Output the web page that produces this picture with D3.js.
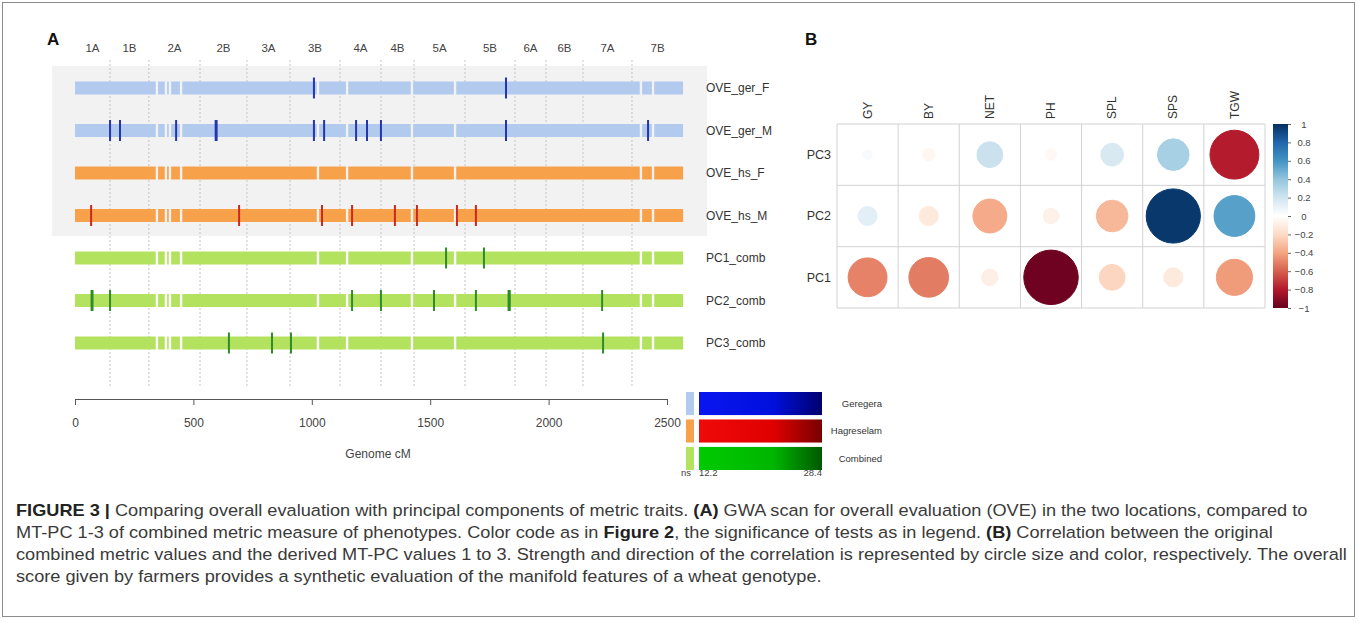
<!DOCTYPE html>
<html lang="en">
<head>
    <meta charset="utf-8">
    <title>Figure 3</title>
    <style>
        body { margin: 0; background: #fff; }
        svg { display: block; font-family: 'Liberation Sans', Arial, sans-serif; }
        .caption { white-space: pre; }
    </style>
    <script src="https://d3js.org/d3.v7.min.js" charset="utf-8"></script>
</head>
<body>
<svg id="fig" width="1358" height="623"></svg>

<script type="text/javascript">
    // panel A: chromosomes and their end positions (cM)
    var chromosomes = ["1A", "1B", "2A", "2B", "3A", "3B", "4A", "4B", "5A", "5B", "6A", "6B", "7A", "7B"];
    var chromEnds = [148, 312, 528, 726, 908, 1119, 1292, 1432, 1647, 1858, 1989, 2145, 2352, 2568];

    var traits = ["OVE_ger_F", "OVE_ger_M", "OVE_hs_F", "OVE_hs_M", "PC1_comb", "PC2_comb", "PC3_comb"];
    var traitGroup = ["Geregera", "Geregera", "Hagreselam", "Hagreselam", "Combined", "Combined", "Combined"];

    // places without markers (white gaps in every track)
    var markerGaps = [346, 384, 401, 448, 1026, 1149, 1423, 1605, 2390, 2441];

    // significant hits per trait (cM)
    var hitsGerF = [1009, 1820];
    var hitsGerM = [148, 190, 427, 594, 598, 1009, 1052, 1187, 1233, 1292, 1820, 2420];
    var hitsHsF = [];
    var hitsHsM = [68, 693, 1043, 1170, 1351, 1444, 1613, 1693];
    var hitsPC1 = [1567, 1727];
    var hitsPC2 = [70, 74, 148, 1170, 1292, 1516, 1693, 1831, 1836, 2226];
    var hitsPC3 = [650, 832, 912, 2230];
    var hits = [hitsGerF, hitsGerM, hitsHsF, hitsHsM, hitsPC1, hitsPC2, hitsPC3];

    var axisTicks = [0, 500, 1000, 1500, 2000, 2500];

    var legendGroups = ["Geregera", "Hagreselam", "Combined"];
    var legendRange = [12.2, 28.4];

    // panel B: correlations
    var pcs = ["PC3", "PC2", "PC1"];
    var metrics = ["GY", "BY", "NET", "PH", "SPL", "SPS", "TGW"];
    var corrPC3 = [0.03, -0.05, 0.22, -0.04, 0.17, 0.33, -0.79];
    var corrPC2 = [0.12, -0.12, -0.38, -0.08, -0.33, 0.97, 0.55];
    var corrPC1 = [-0.50, -0.52, -0.09, -0.98, -0.22, -0.12, -0.43];
    var corr = [corrPC3, corrPC2, corrPC1];
    var colorTicks = [1, 0.8, 0.6, 0.4, 0.2, 0, -0.2, -0.4, -0.6, -0.8, -1];

    var captionLines = [
        [["FIGURE 3 | ", true], ["Comparing overall evaluation with principal components of metric traits. ", false], ["(A)", true], [" GWA scan for overall evaluation (OVE) in the two locations, compared to", false]],
        [["MT-PC 1-3 of combined metric measure of phenotypes. Color code as in ", false], ["Figure 2", true], [", the significance of tests as in legend. ", false], ["(B)", true], [" Correlation between the original", false]],
        [["combined metric values and the derived MT-PC values 1 to 3. Strength and direction of the correlation is represented by circle size and color, respectively. The overall", false]],
        [["score given by farmers provides a synthetic evaluation of the manifold features of a wheat genotype.", false]]
    ];

    var trackColor = {Geregera: "#b2caee", Hagreselam: "#f8a14b", Combined: "#b3e25e"};
    var hitColor = {Geregera: "#2535ad", Hagreselam: "#c92a1c", Combined: "#2f8c27"};
    var gradColors = {
        Geregera: ["#0a16f0", "#0010dc", "#00006c"],
        Hagreselam: ["#f00a0a", "#e00000", "#780000"],
        Combined: ["#00ca00", "#00b600", "#005800"]
    };

    var svg = d3.select("#fig");

    // frame
    svg.append("rect").attr("x", 2.5).attr("y", 2.5).attr("width", 1352).attr("height", 614)
        .attr("fill", "none").attr("stroke", "#8c8c8c");

    // ---------- panel A ----------
    var x = d3.scaleLinear().domain([0, 2500]).range([75, 667]);
    var y = d3.scalePoint().domain(traits).range([88, 343]);

    svg.append("text").attr("x", 47).attr("y", 45).attr("font-size", 17).attr("font-weight", "bold")
        .attr("fill", "#111").text("A");

    svg.append("rect").attr("x", 52).attr("y", 66).attr("width", 655).attr("height", 170).attr("fill", "#f2f2f2");

    var starts = [0].concat(chromEnds.slice(0, -1));

    svg.selectAll(".chrline").data(chromEnds.slice(0, -1)).enter()
        .append("line")
        .attr("x1", d => x(d)).attr("x2", d => x(d))
        .attr("y1", 60).attr("y2", 386)
        .attr("stroke", "#c4c4c4").attr("stroke-dasharray", "2,2");

    svg.selectAll(".chrlab").data(chromosomes).enter()
        .append("text")
        .attr("x", (d, i) => x((starts[i] + chromEnds[i]) / 2))
        .attr("y", 52)
        .attr("text-anchor", "middle").attr("font-size", 11.5).attr("fill", "#444")
        .text(d => d);

    // marker segments between gaps
    var edges = [0].concat(markerGaps, [chromEnds[chromEnds.length - 1]]);
    var segments = [];
    for (var i = 0; i < edges.length - 1; i++) {
        segments.push([edges[i] + (i === 0 ? 0 : 5), edges[i + 1] - (i === edges.length - 2 ? 0 : 5)]);
    }

    traits.forEach(function (t, k) {
        var g = svg.append("g");
        var grp = traitGroup[k];
        g.selectAll("rect").data(segments).enter()
            .append("rect")
            .attr("x", d => x(d[0])).attr("width", d => x(d[1]) - x(d[0]))
            .attr("y", y(t) - 6.5).attr("height", 13)
            .attr("fill", trackColor[grp]);
        g.selectAll("line").data(hits[k]).enter()
            .append("line")
            .attr("x1", d => x(d)).attr("x2", d => x(d))
            .attr("y1", y(t) - 10.5).attr("y2", y(t) + 10.5)
            .attr("stroke", hitColor[grp]).attr("stroke-width", 2);
        svg.append("text").attr("x", 706).attr("y", y(t)).attr("dy", "0.35em")
            .attr("font-size", 12).attr("fill", "#333").text(t);
    });

    var xAxis = svg.append("g").attr("transform", "translate(0,399)")
        .call(d3.axisBottom(x).tickValues(axisTicks).tickSize(6).tickSizeOuter(0).tickPadding(13)
            .tickFormat(d3.format("d")));
    xAxis.select(".domain").attr("stroke", "#555");
    xAxis.selectAll(".tick line").attr("stroke", "#555");
    xAxis.selectAll("text").attr("font-size", 12).attr("fill", "#444")
        .attr("font-family", "'Liberation Sans', Arial, sans-serif");

    svg.append("text").attr("x", 378).attr("y", 458).attr("text-anchor", "middle")
        .attr("font-size", 12).attr("fill", "#444").text("Genome cM");

    // legend
    var defs = svg.append("defs");
    var ly = d3.scaleBand().domain(legendGroups).range([392, 470]).paddingInner(0.16);
    legendGroups.forEach(function (grp) {
        var lg = defs.append("linearGradient").attr("id", "grad" + grp);
        var cols = gradColors[grp];
        lg.append("stop").attr("offset", "0%").attr("stop-color", cols[0]);
        lg.append("stop").attr("offset", "60%").attr("stop-color", cols[1]);
        lg.append("stop").attr("offset", "100%").attr("stop-color", cols[2]);
        svg.append("rect").attr("x", 686).attr("y", ly(grp)).attr("width", 8).attr("height", ly.bandwidth())
            .attr("fill", trackColor[grp]);
        svg.append("rect").attr("x", 699).attr("y", ly(grp)).attr("width", 123).attr("height", ly.bandwidth())
            .attr("fill", "url(#grad" + grp + ")");
        svg.append("text").attr("x", 882).attr("y", ly(grp) + ly.bandwidth() / 2).attr("dy", "0.35em")
            .attr("text-anchor", "end").attr("font-size", 9.5).attr("fill", "#333").text(grp);
    });
    svg.append("text").attr("x", 681).attr("y", 476).attr("font-size", 9.5).attr("fill", "#444").text("ns");
    svg.append("text").attr("x", 699).attr("y", 476).attr("font-size", 9.5).attr("fill", "#444").text(legendRange[0]);
    svg.append("text").attr("x", 822).attr("y", 476).attr("text-anchor", "end").attr("font-size", 9.5)
        .attr("fill", "#444").text(legendRange[1]);

    // ---------- panel B ----------
    svg.append("text").attr("x", 805).attr("y", 45).attr("font-size", 17).attr("font-weight", "bold")
        .attr("fill", "#111").text("B");

    var cx = d3.scaleBand().domain(metrics).range([837, 1265]);
    var cy = d3.scaleBand().domain(pcs).range([124, 308]);
    var corrStops = ["#67001F", "#B2182B", "#D6604D", "#F4A582", "#FDDBC7", "#FFFFFF",
        "#D1E5F0", "#92C5DE", "#4393C3", "#2166AC", "#053061"];
    var color = d3.scaleLinear().domain(d3.range(11).map(i => -1 + i * 0.2)).range(corrStops);
    var rad = d3.scaleSqrt().domain([0, 1]).range([0, cx.bandwidth() * 0.9 / 2]);

    var grid = svg.append("g").attr("stroke", "#d2d2d2").attr("fill", "none");
    metrics.concat(["end"]).forEach(function (m, i) {
        var xx = i < metrics.length ? cx(m) : 1265;
        grid.append("line").attr("x1", xx).attr("x2", xx).attr("y1", 124).attr("y2", 308);
    });
    pcs.concat(["end"]).forEach(function (p, i) {
        var yy = i < pcs.length ? cy(p) : 308;
        grid.append("line").attr("x1", 837).attr("x2", 1265).attr("y1", yy).attr("y2", yy);
    });

    pcs.forEach(function (p, r) {
        svg.append("g").selectAll("circle").data(corr[r]).enter()
            .append("circle")
            .attr("cx", (d, j) => cx(metrics[j]) + cx.bandwidth() / 2)
            .attr("cy", cy(p) + cy.bandwidth() / 2)
            .attr("r", d => rad(Math.abs(d)))
            .attr("fill", d => color(d))
            .attr("stroke", d => color(d));
        svg.append("text").attr("x", 831).attr("y", cy(p) + cy.bandwidth() / 2).attr("dy", "0.35em")
            .attr("text-anchor", "end").attr("font-size", 12.5).attr("fill", "#333").text(p);
    });

    metrics.forEach(function (m) {
        svg.append("text")
            .attr("transform", "translate(" + (cx(m) + cx.bandwidth() / 2) + ",119) rotate(-90)")
            .attr("dy", "0.35em").attr("font-size", 12).attr("fill", "#333").text(m);
    });

    // colour bar
    var cg = defs.append("linearGradient").attr("id", "corrGrad")
        .attr("x1", 0).attr("y1", 1).attr("x2", 0).attr("y2", 0);
    corrStops.forEach(function (c, i) {
        cg.append("stop").attr("offset", (i * 10) + "%").attr("stop-color", c);
    });
    svg.append("rect").attr("x", 1273).attr("y", 124).attr("width", 15).attr("height", 184)
        .attr("fill", "url(#corrGrad)");
    var cbar = d3.scaleLinear().domain([-1, 1]).range([308, 124]);
    var cAxis = svg.append("g").attr("transform", "translate(1288,0)")
        .call(d3.axisRight(cbar).tickValues(colorTicks).tickSize(3).tickFormat(d3.format("")));
    cAxis.select(".domain").remove();
    cAxis.selectAll(".tick line").attr("stroke", "#666");
    cAxis.selectAll("text").attr("x", 16).attr("text-anchor", "middle").attr("font-size", 9.5)
        .attr("fill", "#444").attr("font-family", "'Liberation Sans', Arial, sans-serif")
        .text(d => d < 0 ? "\u2212" + Math.abs(d) : d);

    // ---------- caption ----------
    var capTexts = [];
    captionLines.forEach(function (line, i) {
        var t = svg.append("text").attr("class", "caption")
            .attr("x", 0).attr("y", 516 + i * 22)
            .attr("font-family", "'Liberation Sans Narrow', 'Liberation Sans', Arial, sans-serif")
            .attr("font-size", 16.5).attr("fill", "#3a3a3a");
        line.forEach(function (part) {
            t.append("tspan").attr("font-weight", part[1] ? "bold" : "normal")
                .attr("fill", part[1] ? "#222" : "#3a3a3a").text(part[0]);
        });
        capTexts.push(t);
    });
    var w3 = capTexts[2].node().getComputedTextLength();
    var sx = 1332 / w3;
    capTexts.forEach(function (t) {
        t.attr("transform", "translate(16,0) scale(" + sx + ",1)");
    });
</script>
</body>
</html>
